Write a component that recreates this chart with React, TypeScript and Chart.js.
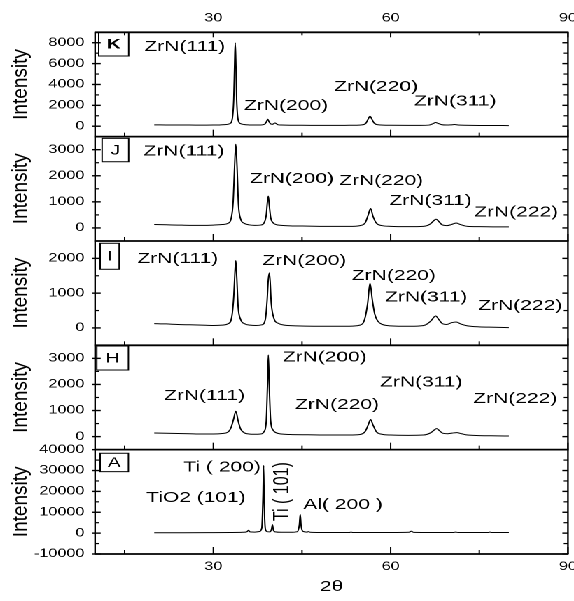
import React, { useEffect, useRef } from "react";
import { Chart, registerables } from "chart.js";
Chart.register(...registerables);

// The reference is horizontally stretched; the chart is drawn narrow and widened by CSS.
const STRETCH = 1.4;
const CW = 410;
const CH = 601;
const FONT = '"Liberation Sans", Arial, sans-serif';

// ---- x axis ----
const xMin = 10;
const xMax = 90;
const xMajor = [30, 60, 90];
const xMinor = [15, 45, 75];

// ---- Panel K ----
const kTheta = [20, 22, 24, 26, 28, 30, 31, 32, 32.8, 33.2, 33.45, 33.6, 33.7, 33.8, 33.95, 34.2, 34.6, 35.2, 36, 37, 38, 38.7, 39.0, 39.2, 39.4, 39.7, 40.0, 40.3, 40.45, 40.6, 40.9, 41.5, 43, 45, 48, 51, 53, 55, 55.8, 56.2, 56.5, 56.8, 57.2, 58, 60, 63, 65, 66.5, 67.2, 67.6, 68.0, 68.6, 69.5, 70.2, 70.8, 71.4, 72.5, 75, 77, 80];
const kInt = [130, 120, 110, 110, 100, 110, 120, 150, 250, 700, 2600, 6000, 8000, 6300, 2500, 600, 250, 160, 120, 110, 120, 200, 450, 670, 450, 220, 180, 280, 310, 260, 150, 110, 90, 90, 80, 80, 90, 120, 280, 700, 950, 700, 300, 130, 90, 80, 80, 110, 250, 350, 280, 150, 110, 130, 160, 120, 90, 70, 70, 60];
const kRange = [-1000, 9000];
const kMajor = [0, 2000, 4000, 6000, 8000];
const kMinor = [1000, 3000, 5000, 7000];
const kLabels = ["ZrN(111)", "ZrN(200)", "ZrN(220)", "ZrN(311)"];
const kLabelTheta = [18.34, 35.2, 50.42, 63.95];
const kLabelInt = [7591, 1956, 3757, 2387];

// ---- Panel J ----
const jTheta = [20, 22, 24, 26, 28, 30, 31.5, 32.5, 33.0, 33.35, 33.6, 33.8, 34.0, 34.25, 34.6, 35.2, 36, 37, 38, 38.6, 38.95, 39.15, 39.3, 39.45, 39.7, 40.1, 40.6, 41.5, 43, 46, 50, 53, 54.8, 55.7, 56.2, 56.6, 57.0, 57.6, 58.5, 60, 63, 65.5, 66.7, 67.3, 67.7, 68.1, 68.7, 69.5, 70.3, 71.1, 71.8, 73, 75, 78, 80];
const jInt = [130, 120, 110, 100, 100, 110, 130, 180, 350, 1000, 2400, 3210, 2400, 900, 350, 180, 120, 100, 110, 200, 500, 1000, 1220, 900, 400, 200, 130, 100, 80, 70, 60, 60, 90, 200, 500, 745, 450, 180, 90, 60, 50, 60, 150, 280, 335, 260, 120, 90, 130, 190, 130, 60, 50, 40, 40];
const jRange = [-500, 3500];
const jMajor = [0, 1000, 2000, 3000];
const jMinor = [500, 1500, 2500];
const jLabels = ["ZrN(111)", "ZrN(200)", "ZrN(220)", "ZrN(311)", "ZrN(222)"];
const jLabelTheta = [18.2, 36.2, 51.3, 59.78, 74.15];
const jLabelInt = [2936, 1875, 1798, 1031, 590];

// ---- Panel I ----
const iTheta = [20, 22, 24, 26, 28, 30, 31.5, 32.5, 33.1, 33.45, 33.65, 33.8, 33.95, 34.2, 34.6, 35.3, 36.2, 37.2, 38.2, 38.8, 39.1, 39.3, 39.5, 39.8, 40.3, 41, 42, 44, 47, 50, 53, 54.8, 55.6, 56.1, 56.5, 56.9, 57.3, 57.8, 58.6, 60, 62, 64, 65.8, 66.8, 67.6, 68.2, 68.8, 69.5, 70.3, 71.1, 71.9, 73, 75, 77.5, 80];
const iInt = [125, 115, 100, 90, 80, 70, 80, 120, 300, 900, 1600, 1934, 1500, 600, 250, 120, 80, 70, 90, 250, 800, 1400, 1583, 700, 250, 130, 80, 60, 50, 50, 50, 80, 250, 700, 1286, 800, 400, 200, 100, 60, 50, 50, 80, 200, 343, 230, 120, 100, 150, 171, 110, 60, 30, 20, 10];
const iRange = [-500, 2500];
const iMajor = [0, 1000, 2000];
const iMinor = [500, 1500];
const iLabels = ["ZrN(111)", "ZrN(200)", "ZrN(220)", "ZrN(311)", "ZrN(222)"];
const iLabelTheta = [17.15, 38.3, 53.42, 59.05, 74.83];
const iLabelInt = [1982, 1925, 1500, 876, 637];

// ---- Panel H ----
const hTheta = [20, 22, 24, 26, 28, 30, 31.5, 32.5, 33.0, 33.4, 33.8, 34.2, 34.6, 35.2, 36, 37, 38, 38.6, 38.95, 39.15, 39.3, 39.45, 39.7, 40.1, 40.6, 41.5, 43, 46, 50, 53, 54.8, 55.7, 56.2, 56.6, 57.0, 57.6, 58.5, 60, 63, 65.5, 66.8, 67.4, 67.8, 68.2, 68.8, 69.6, 70.4, 71.2, 72.0, 73, 75, 78, 80];
const hInt = [140, 130, 120, 110, 100, 100, 120, 180, 350, 650, 973, 600, 300, 150, 100, 90, 100, 200, 600, 1900, 3127, 2000, 600, 250, 150, 100, 80, 70, 60, 60, 80, 200, 450, 654, 450, 180, 90, 60, 50, 60, 150, 260, 307, 240, 130, 110, 135, 153, 110, 60, 40, 30, 23];
const hRange = [-500, 3500];
const hMajor = [0, 1000, 2000, 3000];
const hMinor = [500, 1500, 2500];
const hLabels = ["ZrN(111)", "ZrN(200)", "ZrN(220)", "ZrN(311)", "ZrN(222)"];
const hLabelTheta = [21.67, 41.75, 43.83, 58.2, 73.98];
const hLabelInt = [1564, 3032, 1219, 2074, 1441];

// ---- Panel A ----
const aTheta = [20, 25, 30, 33, 35, 35.7, 35.95, 36.2, 37, 37.8, 38.2, 38.4, 38.5, 38.6, 38.8, 39.1, 39.6, 39.85, 40.0, 40.15, 40.5, 41.5, 43, 44.2, 44.55, 44.7, 44.85, 45.2, 45.8, 46.1, 46.4, 48, 50, 53, 53.3, 53.6, 56, 60, 63.1, 63.5, 63.9, 67, 70.6, 71, 71.4, 74, 76.5, 76.8, 77.1, 80];
const aInt = [200, 200, 250, 300, 400, 700, 1400, 600, 500, 800, 2500, 18000, 32400, 15000, 2000, 700, 600, 2000, 4100, 1500, 600, 400, 400, 700, 4000, 9000, 3500, 800, 500, 700, 400, 300, 300, 300, 500, 300, 300, 300, 400, 900, 350, 300, 300, 500, 300, 300, 300, 500, 300, 300];
const aRange = [-10000, 40000];
const aMajor = [-10000, 0, 10000, 20000, 30000, 40000];
const aMinor = [-5000, 5000, 15000, 25000, 35000];
const aLabels = ["Ti ( 200)", "TiO2 (101)", "Al( 200 )"];
const aLabelTheta = [24.93, 18.63, 45.23];
const aLabelInt = [31470, 16855, 13500];
const aVertLabel = "Ti ( 101)";
const aVertTheta = 41.71;
const aVertInt = 19874;

const yTitle = "Intensity";
const xTitle = "2\u03b8";

type Panel = {
  id: string;
  letter: string;
  bold: boolean;
  theta: number[];
  inten: number[];
  range: number[];
  major: number[];
  minor: number[];
  labels: string[];
  lt: number[];
  li: number[];
  box: number[]; // left offset, top offset, width, height (canvas px)
};

// top -> bottom
const panels: Panel[] = [
  { id: "yK", letter: "K", bold: true, theta: kTheta, inten: kInt, range: kRange, major: kMajor, minor: kMinor, labels: kLabels, lt: kLabelTheta, li: kLabelInt, box: [2.6, 0, 21.4, 23.7] },
  { id: "yJ", letter: "J", bold: false, theta: jTheta, inten: jInt, range: jRange, major: jMajor, minor: jMinor, labels: jLabels, lt: jLabelTheta, li: jLabelInt, box: [5, 1.7, 19, 23.4] },
  { id: "yI", letter: "I", bold: false, theta: iTheta, inten: iInt, range: iRange, major: iMajor, minor: iMinor, labels: iLabels, lt: iLabelTheta, li: iLabelInt, box: [3.6, 2.3, 13.6, 26] },
  { id: "yH", letter: "H", bold: false, theta: hTheta, inten: hInt, range: hRange, major: hMajor, minor: hMinor, labels: hLabels, lt: hLabelTheta, li: hLabelInt, box: [1.2, 0.7, 22.6, 24] },
  { id: "yA", letter: "A", bold: false, theta: aTheta, inten: aInt, range: aRange, major: aMajor, minor: aMinor, labels: aLabels, lt: aLabelTheta, li: aLabelInt, box: [3.6, 3.6, 20.2, 18.4] },
];

const LEFT_W = 67.9;
const TOP_H = 32.3;
const BOTTOM_H = 47;

const framePlugin = {
  id: "xrdFrame",
  afterDraw(chart: any) {
    const { ctx, chartArea: ca } = chart;
    const xs = chart.scales.x;
    const line = (x1: number, y1: number, x2: number, y2: number) => {
      ctx.beginPath();
      ctx.moveTo(x1, y1);
      ctx.lineTo(x2, y2);
      ctx.stroke();
    };
    ctx.save();
    ctx.strokeStyle = "#000";
    ctx.fillStyle = "#000";
    panels.forEach((p, idx) => {
      const s = chart.scales[p.id];
      // frame
      ctx.lineWidth = 1.8;
      line(ca.left - 0.5, s.bottom, ca.right + 0.5, s.bottom);
      if (idx === 0) line(ca.left - 0.5, s.top, ca.right + 0.5, s.top);
      ctx.lineWidth = 1.2;
      line(ca.left, s.top, ca.left, s.bottom);
      line(ca.right, s.top, ca.right, s.bottom);
      // y ticks
      ctx.lineWidth = 1.4;
      p.major.forEach((v) => {
        const y = s.getPixelForValue(v);
        line(ca.left - 2, y, ca.left + 4, y);
        line(ca.right - 4, y, ca.right, y);
      });
      ctx.lineWidth = 1.2;
      p.minor.forEach((v) => {
        const y = s.getPixelForValue(v);
        line(ca.left, y, ca.left + 3, y);
        line(ca.right - 3, y, ca.right, y);
      });
      // x ticks on panel bottom (pointing up)
      ctx.lineWidth = 1;
      xMajor.forEach((v) => {
        const x = xs.getPixelForValue(v);
        line(x, s.bottom, x, s.bottom - 7);
      });
      xMinor.forEach((v) => {
        const x = xs.getPixelForValue(v);
        line(x, s.bottom, x, s.bottom - 4);
      });
      if (idx === 0) {
        xMajor.forEach((v) => {
          const x = xs.getPixelForValue(v);
          line(x, s.top, x, s.top + 5);
        });
        xMinor.forEach((v) => {
          const x = xs.getPixelForValue(v);
          line(x, s.top, x, s.top + 3);
        });
      }
      // letter box
      const [bx, by, bw, bh] = p.box;
      ctx.lineWidth = 1;
      ctx.strokeRect(ca.left + bx, s.top + by, bw, bh);
      ctx.font = `${p.bold ? "bold " : ""}14px ${FONT}`;
      ctx.textAlign = "center";
      ctx.textBaseline = "middle";
      ctx.fillText(p.letter, ca.left + bx + bw / 2, s.top + by + bh / 2 + 0.5);
      // peak labels
      ctx.font = `15px ${FONT}`;
      ctx.textAlign = "left";
      ctx.textBaseline = "middle";
      p.labels.forEach((t, k) => {
        ctx.fillText(t, xs.getPixelForValue(p.lt[k]), s.getPixelForValue(p.li[k]));
      });
      // y title
      ctx.save();
      ctx.translate(15, (s.top + s.bottom) / 2);
      ctx.rotate(-Math.PI / 2);
      ctx.scale(1, 1 / 1.25);
      ctx.font = `19px ${FONT}`;
      ctx.textAlign = "center";
      ctx.textBaseline = "middle";
      ctx.fillText(yTitle, 0, 0);
      ctx.restore();
      if (p.id === "yA") {
        ctx.save();
        ctx.translate(xs.getPixelForValue(aVertTheta), s.getPixelForValue(aVertInt));
        ctx.rotate(-Math.PI / 2);
        ctx.font = `16px ${FONT}`;
        ctx.textAlign = "center";
        ctx.textBaseline = "middle";
        ctx.fillText(aVertLabel, 0, 0);
        ctx.restore();
      }
    });
    ctx.restore();
  },
};

const plainTick = (v: any) => String(v);

function makeYScale(p: Panel) {
  return {
    type: "linear",
    position: "left",
    stack: "xrd",
    stackWeight: 1,
    min: p.range[0],
    max: p.range[1],
    grid: { display: false, drawTicks: false },
    border: { display: false },
    afterBuildTicks: (s: any) => {
      s.ticks = p.major.map((v) => ({ value: v }));
    },
    afterFit: (s: any) => {
      s.width = LEFT_W;
      s.paddingTop = 0;
      s.paddingBottom = 0;
      s.paddingLeft = 0;
      s.paddingRight = 0;
    },
    ticks: {
      autoSkip: false,
      padding: 7.6,
      color: "#000",
      font: { family: FONT, size: 11.6 },
      callback: plainTick,
    },
  };
}

export default function App() {
  const ref = useRef<HTMLCanvasElement>(null);
  useEffect(() => {
    const scales: any = {
      x: {
        type: "linear",
        position: "bottom",
        min: xMin,
        max: xMax,
        grid: { display: false, drawTicks: false },
        border: { display: false },
        afterBuildTicks: (s: any) => {
          s.ticks = xMajor.map((v) => ({ value: v }));
        },
        afterFit: (s: any) => {
          s.height = BOTTOM_H;
          s.paddingLeft = 0;
          s.paddingRight = 0;
          s.paddingTop = 0;
          s.paddingBottom = 0;
        },
        ticks: { autoSkip: false, maxRotation: 0, padding: 5.7, color: "#000", font: { family: FONT, size: 11.6 }, callback: plainTick },
        title: { display: true, text: xTitle, color: "#000", font: { family: FONT, size: 15 }, padding: { top: 0, bottom: 5.3 } },
      },
      xTop: {
        type: "linear",
        position: "top",
        min: xMin,
        max: xMax,
        grid: { display: false, drawTicks: false },
        border: { display: false },
        afterBuildTicks: (s: any) => {
          s.ticks = xMajor.map((v) => ({ value: v }));
        },
        afterFit: (s: any) => {
          s.height = TOP_H;
          s.paddingLeft = 0;
          s.paddingRight = 0;
          s.paddingTop = 0;
          s.paddingBottom = 0;
        },
        ticks: { autoSkip: false, maxRotation: 0, padding: 7, color: "#000", font: { family: FONT, size: 11.6 }, callback: plainTick },
      },
    };
    // defined bottom-first: left stacked scales are laid out in reverse order
    [...panels].reverse().forEach((p) => {
      scales[p.id] = makeYScale(p);
    });

    const datasets = panels.map((p) => ({
      label: p.letter,
      yAxisID: p.id,
      xAxisID: "x",
      data: p.theta.map((t, i) => ({ x: t, y: p.inten[i] })),
      borderColor: "#000",
      backgroundColor: "#000",
      borderWidth: 1,
      pointRadius: 0,
      cubicInterpolationMode: "monotone",
      fill: false,
    }));

    const chart = new Chart(ref.current as HTMLCanvasElement, {
      type: "line",
      data: { datasets } as any,
      options: {
        animation: false,
        responsive: false,
        devicePixelRatio: 2,
        layout: { padding: { left: 0, right: CW - 405.7, top: 0, bottom: 0 }, autoPadding: false },
        plugins: { legend: { display: false }, tooltip: { enabled: false } },
        events: [],
        scales,
      } as any,
      plugins: [framePlugin],
    });
    return () => chart.destroy();
  }, []);
  return (
    <div
      style={{
        position: "absolute",
        left: 0,
        top: 0,
        width: CW,
        height: CH,
        transform: `scaleX(${STRETCH})`,
        transformOrigin: "0 0",
        background: "#fff",
      }}
    >
      <canvas ref={ref} width={CW} height={CH} style={{ width: CW, height: CH, display: "block" }} />
    </div>
  );
}
